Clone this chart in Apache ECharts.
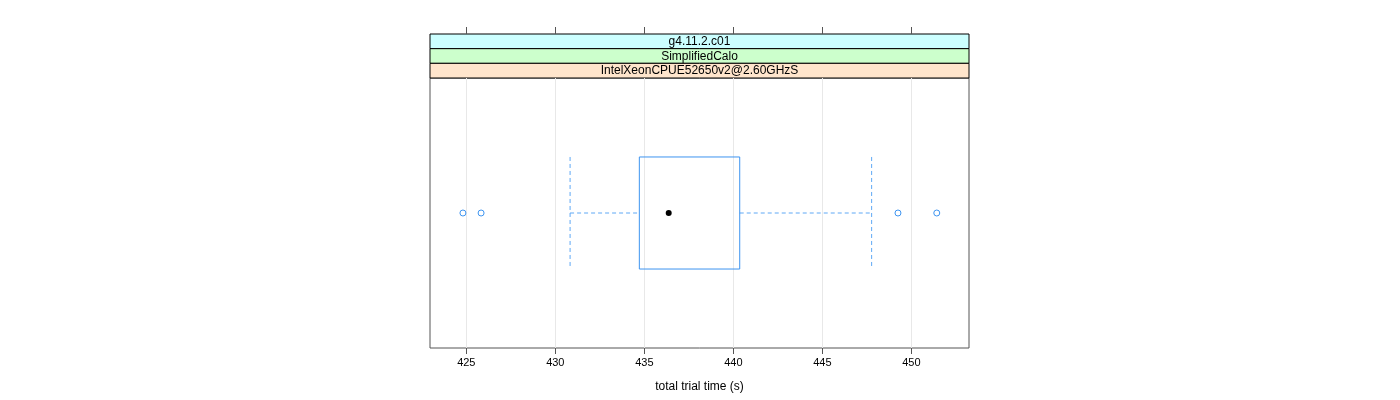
<!DOCTYPE html>
<html>
<head>
<meta charset="utf-8">
<script src="https://cdn.jsdelivr.net/npm/echarts@6/dist/echarts.min.js"></script>
<style>
  html, body { margin: 0; padding: 0; background: #fff; }
  #chart { width: 1400px; height: 400px; }
</style>
</head>
<body>
<div id="chart"></div>
<script>
// strip labels, top to bottom
const stripLabels = ['g4.11.2.c01', 'SimplifiedCalo', 'IntelXeonCPUE52650v2@2.60GHzS'];
const stripColors = ['#ccffff', '#ccffcc', '#ffe5cc'];

// box stats: lower whisker, q1, median, q3, upper whisker
const boxStats = [430.83, 434.72, 436.37, 440.36, 447.77];
const outliers = [424.81, 425.83, 449.25, 451.43];

const xTicks = [425, 430, 435, 440, 445, 450];
const xMin = 422.96, xMax = 453.24;

const blue = '#3d94f0';
const font = 'Liberation Sans, Arial, sans-serif';

const chart = echarts.init(document.getElementById('chart'));

// strips above the panel
const stripTop = 34, stripH = 44 / 3;
const strips = stripLabels.map((label, i) => ({
    type: 'group',
    children: [
        {
            type: 'rect',
            shape: { x: 430, y: stripTop + i * stripH, width: 539, height: stripH },
            style: { fill: stripColors[i], stroke: '#000', lineWidth: 1 }
        },
        {
            type: 'text',
            x: 699.5,
            y: stripTop + i * stripH + stripH / 2 + 0.5,
            style: {
                text: label, fill: '#000', font: '12px ' + font,
                align: 'center', verticalAlign: 'middle'
            }
        }
    ]
}));

function renderBox(params, api) {
    const lo = api.coord([api.value(0), 0]);
    const q1 = api.coord([api.value(1), 0]);
    const med = api.coord([api.value(2), 0]);
    const q3 = api.coord([api.value(3), 0]);
    const hi = api.coord([api.value(4), 0]);
    const band = api.size([0, 1])[1];
    const half = band * 0.415 / 2;
    const cy = med[1];
    const dash = { stroke: '#5ea8f5', lineWidth: 1, lineDash: [4, 3] };
    return {
        type: 'group',
        children: [
            { type: 'line', shape: { x1: lo[0], y1: cy, x2: q1[0], y2: cy }, style: dash },
            { type: 'line', shape: { x1: q3[0], y1: cy, x2: hi[0], y2: cy }, style: dash },
            { type: 'line', shape: { x1: lo[0], y1: cy - half, x2: lo[0], y2: cy + half }, style: dash },
            { type: 'line', shape: { x1: hi[0], y1: cy - half, x2: hi[0], y2: cy + half }, style: dash },
            {
                type: 'rect',
                shape: { x: q1[0], y: cy - half, width: q3[0] - q1[0], height: 2 * half },
                style: { fill: 'none', stroke: blue, lineWidth: 1 }
            },
            { type: 'circle', shape: { cx: med[0], cy: cy, r: 3 }, style: { fill: '#000' } }
        ]
    };
}

const option = {
    animation: false,
    grid: {
        left: 430, right: 431, top: 78, bottom: 52,
        show: true, borderColor: '#555', borderWidth: 1, backgroundColor: 'transparent'
    },
    xAxis: [
        {
            type: 'value', min: xMin, max: xMax, position: 'bottom',
            name: 'total trial time (s)', nameLocation: 'middle', nameGap: 33,
            nameTextStyle: { color: '#000', fontSize: 12, fontFamily: font },
            axisLine: { show: false },
            axisTick: { show: true, customValues: xTicks, length: 6, lineStyle: { color: '#555' } },
            axisLabel: { customValues: xTicks, color: '#000', fontSize: 11, fontFamily: font, margin: 9 },
            splitLine: { show: true, lineStyle: { color: '#e8e8e8', width: 1 } }
        },
        {
            type: 'value', min: xMin, max: xMax, position: 'top', offset: 44,
            axisLine: { show: false },
            axisTick: { show: true, customValues: xTicks, length: 7, lineStyle: { color: '#555' } },
            axisLabel: { show: false },
            splitLine: { show: false }
        }
    ],
    yAxis: {
        type: 'category', data: ['run'],
        axisLine: { show: false }, axisTick: { show: false }, axisLabel: { show: false },
        splitLine: { show: false }
    },
    graphic: strips,
    series: [
        {
            type: 'custom',
            renderItem: renderBox,
            data: [boxStats],
            encode: { x: [0, 1, 2, 3, 4] }
        },
        {
            type: 'scatter',
            xAxisIndex: 0,
            data: outliers.map(v => [v, 'run']),
            symbol: 'circle',
            symbolSize: 6,
            itemStyle: { color: 'rgba(255,255,255,0)', borderColor: blue, borderWidth: 1, opacity: 1 },
            z: 5
        }
    ]
};

chart.setOption(option);
</script>
</body>
</html>
